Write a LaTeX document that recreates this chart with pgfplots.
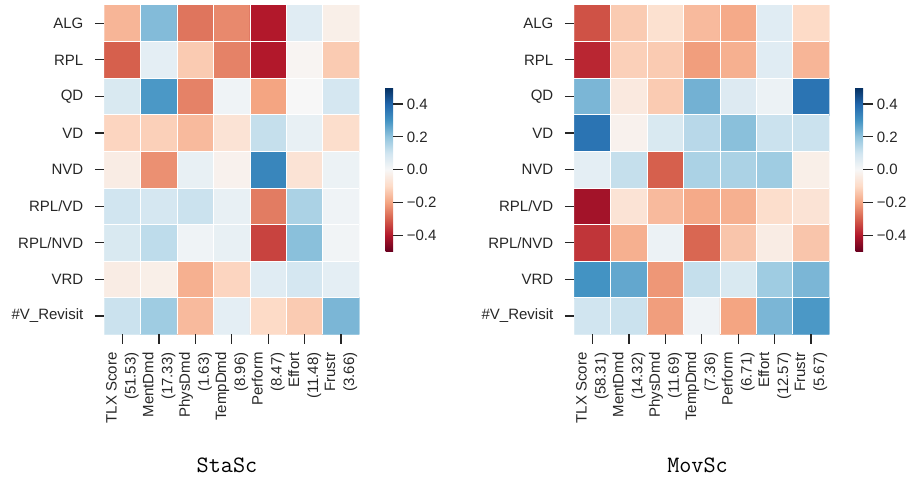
\documentclass[border=0pt]{standalone}
\usepackage{fontspec}
\setmainfont{Liberation Sans}
\usepackage{pgfplots}
\pgfplotsset{compat=1.18}
\usepackage{pgfplotstable}
\definecolor{txt}{RGB}{38,38,38}

\pgfplotstableread{
x y c
0 0 -0.17
1 0 0.22
2 0 -0.27
3 0 -0.24
4 0 -0.40
5 0 0.06
6 0 -0.03
0 1 -0.30
1 1 0.05
2 1 -0.13
3 1 -0.25
4 1 -0.40
5 1 -0.01
6 1 -0.13
0 2 0.08
1 2 0.29
2 2 -0.25
3 2 0.02
4 2 -0.20
5 2 0.00
6 2 0.09
0 3 -0.11
1 3 -0.12
2 3 -0.16
3 3 -0.07
4 3 0.12
5 3 0.04
6 3 -0.09
0 4 -0.04
1 4 -0.23
2 4 0.04
3 4 -0.02
4 4 0.33
5 4 -0.07
6 4 0.03
0 5 0.10
1 5 0.09
2 5 0.11
3 5 0.04
4 5 -0.26
5 5 0.16
6 5 0.02
0 6 0.08
1 6 0.13
2 6 0.02
3 6 0.04
4 6 -0.34
5 6 0.21
6 6 0.015
0 7 -0.04
1 7 -0.03
2 7 -0.18
3 7 -0.11
4 7 0.06
5 7 0.09
6 7 0.05
0 8 0.11
1 8 0.18
2 8 -0.16
3 8 0.05
4 8 -0.10
5 8 -0.13
6 8 0.23
}\stasc

\pgfplotstableread{
x y c
0 0 -0.32
1 0 -0.13
2 0 -0.08
3 0 -0.16
4 0 -0.19
5 0 0.06
6 0 -0.10
0 1 -0.38
1 1 -0.12
2 1 -0.13
3 1 -0.21
4 1 -0.18
5 1 0.06
6 1 -0.17
0 2 0.23
1 2 -0.05
2 2 -0.13
3 2 0.24
4 2 0.07
5 2 0.03
6 2 0.37
0 3 0.37
1 3 -0.02
2 3 0.08
3 3 0.14
4 3 0.21
5 3 0.11
6 3 0.11
0 4 0.05
1 4 0.12
2 4 -0.30
3 4 0.16
4 4 0.16
5 4 0.18
6 4 -0.03
0 5 -0.42
1 5 -0.07
2 5 -0.16
3 5 -0.19
4 5 -0.18
5 5 -0.09
6 5 -0.07
0 6 -0.36
1 6 -0.18
2 6 0.03
3 6 -0.29
4 6 -0.14
5 6 -0.04
6 6 -0.14
0 7 0.30
1 7 0.26
2 7 -0.22
3 7 0.12
4 7 0.08
5 7 0.18
6 7 0.23
0 8 0.10
1 8 0.11
2 8 -0.21
3 8 0.02
4 8 -0.20
5 8 0.23
6 8 0.29
}\movsc

\pgfplotsset{
  hm/.style={
    scale only axis, width=255pt, height=329.3pt,
    xmin=-0.5, xmax=6.5, ymin=-0.5, ymax=8.5, y dir=reverse,
    enlargelimits=false, axis on top,
    axis line style={draw=none},
    xtick={0,...,6}, ytick={0,...,8},
    minor xtick={0.5,1.5,...,5.5}, minor ytick={0.5,1.5,...,7.5},
    grid=minor, minor grid style={white, line width=0.8pt},
    minor tick length=0pt,
    major tick length=9.5pt, tick align=outside,
    xtick pos=bottom, ytick pos=left,
    tick style={txt, line width=1.2pt},
    ticklabel style={font=\fontsize{15}{19}\selectfont, text=txt},
    yticklabels={ALG,RPL,QD,VD,NVD,RPL/VD,RPL/NVD,VRD,\#V\_Revisit},
    yticklabel style={xshift=-8pt},
    xticklabel style={yshift=-5pt, rotate=90, anchor=east, align=right},
    colormap={RdBu}{rgb255(0)=(103,0,31) rgb255(1)=(178,24,43) rgb255(2)=(214,96,77) rgb255(3)=(244,165,130) rgb255(4)=(253,219,199) rgb255(5)=(247,247,247) rgb255(6)=(209,229,240) rgb255(7)=(146,197,222) rgb255(8)=(67,147,195) rgb255(9)=(33,102,172) rgb255(10)=(5,48,97)},
    point meta min=-0.5, point meta max=0.5,
    colorbar,
    colorbar style={
      scale only axis, width=7.7pt, height=164pt,
      at={(parent axis.east)}, anchor=west, xshift=17.7pt,
      ytick={-0.4,-0.2,0,0.2,0.4},
      yticklabels={−0.4,−0.2,0.0,0.2,0.4},
      axis line style={draw=none},
      grid=none,
      major tick length=10pt, tick align=outside,
      ytick pos=right, yticklabel pos=right,
      tick style={txt, line width=1.2pt},
      ticklabel style={font=\fontsize{15}{16.5}\selectfont, text=txt},
    },
  }
}

\begin{document}
\begin{tikzpicture}[x=1pt,y=1pt]
\path[use as bounding box] (0pt,0pt) rectangle (915pt,479pt);
\begin{axis}[hm, at={(104.3pt,144.7pt)}, anchor=south west,
  xticklabels={TLX Score\\(51.53),MentDmd\\(17.33),PhysDmd\\(1.63),TempDmd\\(8.96),Perform\\(8.47),Effort\\(11.48),Frustr\\(3.66)}]
\addplot[matrix plot*, mesh/cols=7, point meta=explicit] table[x=x, y=y, meta=c] {\stasc};
\end{axis}
\begin{axis}[hm, at={(574.3pt,144.7pt)}, anchor=south west,
  xticklabels={TLX Score\\(58.31),MentDmd\\(14.32),PhysDmd\\(11.69),TempDmd\\(7.36),Perform\\(6.71),Effort\\(12.57),Frustr\\(5.67)}]
\addplot[matrix plot*, mesh/cols=7, point meta=explicit] table[x=x, y=y, meta=c] {\movsc};
\end{axis}
\node[anchor=base, font=\fontsize{23.5}{28}\selectfont\ttfamily] at (227pt,7pt) {StaSc};
\node[anchor=base, font=\fontsize{23.5}{28}\selectfont\ttfamily] at (697.5pt,7pt) {MovSc};
\end{tikzpicture}
\end{document}
